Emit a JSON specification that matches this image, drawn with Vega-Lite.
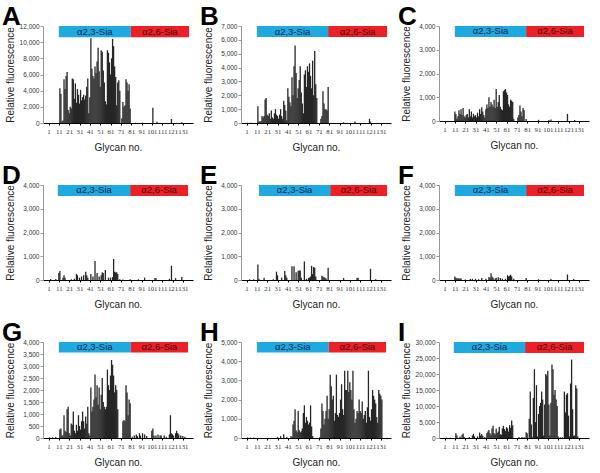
{
  "$schema": "https://vega.github.io/schema/vega-lite/v6.json",
  "padding": {"left": 2, "top": 4, "right": 2, "bottom": 2},
  "background": "white",
  "config": {
    "view": {"stroke": null},
    "font": "Liberation Sans",
    "title": {"anchor": "start", "frame": "group", "dx": -41, "dy": 9, "fontSize": 26, "fontWeight": "bold", "offset": 2, "baseline": "alphabetic", "color": "#000", "font": "Liberation Sans"},
    "axis": {"grid": false, "labelFontSize": 6.5, "titleFontSize": 10, "titleFontWeight": "normal", "titleColor": "#222", "labelColor": "#333", "labelOverlap": false, "tickCount": 20},
    "axisX": {"domainColor": "#000", "tickColor": "#000", "tickSize": 2, "labelFont": "Liberation Serif", "labelFontSize": 6.8, "labelPadding": 3, "titlePadding": 8, "labelAngle": 0, "labelFlush": false},
    "axisY": {"domainColor": "#999", "tickColor": "#999", "tickSize": 3, "labelPadding": 1, "titlePadding": 6, "minExtent": 22, "maxExtent": 22}
  },
  "datasets": {
    "bands": [
      {"p": "A", "sia": "α2,3-Sia", "s": 11, "e": 80.5, "lo": 10620, "hi": 12000},
      {"p": "A", "sia": "α2,6-Sia", "s": 80.5, "e": 137, "lo": 10620, "hi": 12000},
      {"p": "B", "sia": "α2,3-Sia", "s": 11, "e": 80, "lo": 6200, "hi": 7000},
      {"p": "B", "sia": "α2,6-Sia", "s": 80, "e": 137, "lo": 6200, "hi": 7000},
      {"p": "C", "sia": "α2,3-Sia", "s": 11, "e": 80, "lo": 3540, "hi": 4000},
      {"p": "C", "sia": "α2,6-Sia", "s": 80, "e": 136, "lo": 3540, "hi": 4000},
      {"p": "D", "sia": "α2,3-Sia", "s": 10, "e": 80, "lo": 3540, "hi": 4000},
      {"p": "D", "sia": "α2,6-Sia", "s": 80, "e": 136, "lo": 3540, "hi": 4000},
      {"p": "E", "sia": "α2,3-Sia", "s": 13, "e": 82, "lo": 3540, "hi": 4000},
      {"p": "E", "sia": "α2,6-Sia", "s": 82, "e": 137, "lo": 3540, "hi": 4000},
      {"p": "F", "sia": "α2,3-Sia", "s": 11, "e": 80, "lo": 3540, "hi": 4000},
      {"p": "F", "sia": "α2,6-Sia", "s": 80, "e": 136, "lo": 3540, "hi": 4000},
      {"p": "G", "sia": "α2,3-Sia", "s": 11, "e": 80.5, "lo": 3560, "hi": 4000},
      {"p": "G", "sia": "α2,6-Sia", "s": 80.5, "e": 136, "lo": 3560, "hi": 4000},
      {"p": "H", "sia": "α2,3-Sia", "s": 11, "e": 80.5, "lo": 4450, "hi": 5000},
      {"p": "H", "sia": "α2,6-Sia", "s": 80.5, "e": 136, "lo": 4450, "hi": 5000},
      {"p": "I", "sia": "α2,3-Sia", "s": 10, "e": 79, "lo": 26600, "hi": 30000},
      {"p": "I", "sia": "α2,6-Sia", "s": 79, "e": 136, "lo": 26600, "hi": 30000}
    ],
    "A": [
      {"g":12,"v":4300},{"g":13,"v":3600},{"g":14,"v":200},{"g":15,"v":300},{"g":16,"v":5400},{"g":17,"v":4200},{"g":18,"v":5800},{"g":19,"v":6300},{"g":20,"v":1600},{"g":21,"v":1200},{"g":22,"v":2000},{"g":23,"v":1800},{"g":24,"v":5500},{"g":25,"v":5400},{"g":26,"v":3000},{"g":27,"v":4900},{"g":28,"v":2500},{"g":29,"v":4200},{"g":30,"v":3500},{"g":31,"v":2400},{"g":32,"v":4100},{"g":33,"v":2800},{"g":34,"v":3200},{"g":35,"v":3500},{"g":36,"v":2900},{"g":37,"v":3400},{"g":38,"v":4500},{"g":39,"v":5500},{"g":40,"v":1200},{"g":41,"v":3200},{"g":42,"v":10500},{"g":43,"v":6700},{"g":44,"v":5800},{"g":45,"v":5500},{"g":46,"v":7000},{"g":47,"v":6200},{"g":48,"v":7600},{"g":49,"v":9300},{"g":50,"v":6400},{"g":51,"v":4500},{"g":52,"v":9000},{"g":53,"v":8800},{"g":54,"v":6500},{"g":55,"v":5000},{"g":56,"v":2700},{"g":57,"v":2300},{"g":58,"v":9000},{"g":59,"v":8700},{"g":60,"v":7500},{"g":61,"v":6000},{"g":62,"v":8000},{"g":63,"v":10400},{"g":64,"v":9500},{"g":65,"v":7000},{"g":66,"v":5700},{"g":67,"v":2200},{"g":68,"v":5000},{"g":69,"v":5300},{"g":70,"v":4000},{"g":72,"v":600},{"g":73,"v":2600},{"g":74,"v":2000},{"g":75,"v":2200},{"g":76,"v":5400},{"g":77,"v":5000},{"g":78,"v":4000},{"g":79,"v":4800},{"g":80,"v":1800},{"g":85,"v":40},{"g":92,"v":40},{"g":102,"v":1900},{"g":106,"v":150},{"g":120,"v":500},{"g":130,"v":100}
    ],
    "B": [
      {"g":2,"v":20},{"g":5,"v":20},{"g":12,"v":1200},{"g":13,"v":100},{"g":14,"v":100},{"g":15,"v":150},{"g":16,"v":500},{"g":17,"v":400},{"g":18,"v":500},{"g":19,"v":1700},{"g":20,"v":1800},{"g":21,"v":600},{"g":22,"v":500},{"g":23,"v":700},{"g":24,"v":300},{"g":25,"v":900},{"g":26,"v":400},{"g":27,"v":300},{"g":28,"v":700},{"g":29,"v":1000},{"g":30,"v":600},{"g":31,"v":500},{"g":32,"v":300},{"g":33,"v":600},{"g":34,"v":1000},{"g":35,"v":500},{"g":36,"v":300},{"g":37,"v":1600},{"g":38,"v":1300},{"g":39,"v":900},{"g":40,"v":200},{"g":41,"v":2500},{"g":42,"v":1900},{"g":43,"v":1500},{"g":44,"v":1200},{"g":45,"v":3300},{"g":46,"v":2000},{"g":47,"v":4100},{"g":48,"v":5600},{"g":49,"v":3600},{"g":50,"v":1800},{"g":51,"v":2500},{"g":52,"v":3100},{"g":53,"v":4100},{"g":54,"v":2200},{"g":55,"v":1400},{"g":56,"v":700},{"g":57,"v":3500},{"g":58,"v":3800},{"g":59,"v":2600},{"g":60,"v":4100},{"g":61,"v":3700},{"g":62,"v":4300},{"g":63,"v":3400},{"g":64,"v":2500},{"g":65,"v":4500},{"g":66,"v":2000},{"g":67,"v":5200},{"g":68,"v":2800},{"g":69,"v":1800},{"g":73,"v":300},{"g":74,"v":500},{"g":75,"v":2300},{"g":76,"v":1400},{"g":77,"v":1000},{"g":78,"v":1000},{"g":79,"v":900},{"g":80,"v":2600},{"g":95,"v":50},{"g":106,"v":100},{"g":120,"v":300},{"g":121,"v":100}
    ],
    "C": [
      {"g":11,"v":400},{"g":12,"v":300},{"g":13,"v":100},{"g":14,"v":200},{"g":15,"v":450},{"g":16,"v":300},{"g":17,"v":500},{"g":18,"v":250},{"g":19,"v":550},{"g":20,"v":200},{"g":21,"v":150},{"g":22,"v":250},{"g":23,"v":300},{"g":24,"v":150},{"g":25,"v":500},{"g":26,"v":200},{"g":27,"v":400},{"g":28,"v":150},{"g":29,"v":300},{"g":30,"v":200},{"g":31,"v":250},{"g":32,"v":150},{"g":33,"v":350},{"g":34,"v":200},{"g":35,"v":500},{"g":36,"v":300},{"g":37,"v":580},{"g":38,"v":400},{"g":39,"v":250},{"g":40,"v":150},{"g":41,"v":500},{"g":42,"v":700},{"g":43,"v":550},{"g":44,"v":1000},{"g":45,"v":600},{"g":46,"v":800},{"g":47,"v":700},{"g":48,"v":600},{"g":49,"v":900},{"g":50,"v":550},{"g":51,"v":1350},{"g":52,"v":600},{"g":53,"v":800},{"g":54,"v":1100},{"g":55,"v":600},{"g":56,"v":500},{"g":57,"v":450},{"g":58,"v":1250},{"g":59,"v":1300},{"g":60,"v":1350},{"g":61,"v":1200},{"g":62,"v":1100},{"g":63,"v":700},{"g":64,"v":600},{"g":65,"v":900},{"g":66,"v":850},{"g":67,"v":800},{"g":68,"v":100},{"g":72,"v":150},{"g":73,"v":250},{"g":74,"v":650},{"g":75,"v":400},{"g":76,"v":200},{"g":77,"v":550},{"g":78,"v":450},{"g":80,"v":80},{"g":92,"v":50},{"g":102,"v":40},{"g":104,"v":60},{"g":120,"v":300},{"g":127,"v":40}
    ],
    "D": [
      {"g":3,"v":40},{"g":8,"v":40},{"g":11,"v":300},{"g":12,"v":380},{"g":15,"v":100},{"g":16,"v":200},{"g":17,"v":100},{"g":23,"v":30},{"g":26,"v":50},{"g":28,"v":250},{"g":29,"v":200},{"g":31,"v":100},{"g":33,"v":150},{"g":35,"v":200},{"g":37,"v":350},{"g":38,"v":200},{"g":39,"v":100},{"g":42,"v":250},{"g":44,"v":150},{"g":46,"v":800},{"g":48,"v":300},{"g":50,"v":150},{"g":52,"v":200},{"g":53,"v":330},{"g":54,"v":300},{"g":56,"v":420},{"g":59,"v":100},{"g":61,"v":100},{"g":63,"v":120},{"g":64,"v":880},{"g":65,"v":350},{"g":66,"v":320},{"g":67,"v":330},{"g":68,"v":250},{"g":70,"v":30},{"g":73,"v":20},{"g":80,"v":30},{"g":88,"v":30},{"g":94,"v":100},{"g":104,"v":80},{"g":105,"v":70},{"g":118,"v":50},{"g":120,"v":600},{"g":124,"v":80},{"g":130,"v":130}
    ],
    "E": [
      {"g":4,"v":30},{"g":8,"v":30},{"g":12,"v":650},{"g":13,"v":50},{"g":18,"v":100},{"g":27,"v":30},{"g":30,"v":350},{"g":31,"v":200},{"g":35,"v":100},{"g":38,"v":380},{"g":39,"v":200},{"g":40,"v":100},{"g":45,"v":580},{"g":47,"v":580},{"g":49,"v":330},{"g":51,"v":380},{"g":52,"v":400},{"g":53,"v":400},{"g":54,"v":100},{"g":57,"v":780},{"g":59,"v":50},{"g":61,"v":80},{"g":62,"v":100},{"g":63,"v":150},{"g":64,"v":600},{"g":65,"v":250},{"g":66,"v":550},{"g":67,"v":520},{"g":68,"v":150},{"g":74,"v":180},{"g":75,"v":150},{"g":76,"v":120},{"g":77,"v":100},{"g":78,"v":60},{"g":80,"v":520},{"g":95,"v":80},{"g":108,"v":80},{"g":109,"v":100},{"g":121,"v":470},{"g":126,"v":30}
    ],
    "F": [
      {"g":11,"v":150},{"g":12,"v":100},{"g":13,"v":70},{"g":14,"v":60},{"g":15,"v":60},{"g":16,"v":60},{"g":17,"v":60},{"g":21,"v":20},{"g":26,"v":40},{"g":28,"v":50},{"g":31,"v":50},{"g":34,"v":30},{"g":37,"v":80},{"g":41,"v":50},{"g":44,"v":130},{"g":45,"v":80},{"g":46,"v":280},{"g":47,"v":150},{"g":48,"v":100},{"g":50,"v":60},{"g":51,"v":100},{"g":53,"v":120},{"g":55,"v":80},{"g":57,"v":60},{"g":60,"v":50},{"g":62,"v":200},{"g":63,"v":150},{"g":64,"v":180},{"g":65,"v":220},{"g":66,"v":150},{"g":68,"v":50},{"g":80,"v":80},{"g":92,"v":30},{"g":104,"v":40},{"g":120,"v":230},{"g":126,"v":40}
    ],
    "G": [
      {"g":2,"v":30},{"g":5,"v":30},{"g":8,"v":40},{"g":12,"v":350},{"g":13,"v":400},{"g":14,"v":100},{"g":15,"v":100},{"g":16,"v":950},{"g":17,"v":300},{"g":18,"v":250},{"g":19,"v":1200},{"g":20,"v":1300},{"g":21,"v":200},{"g":22,"v":100},{"g":23,"v":600},{"g":24,"v":550},{"g":25,"v":1100},{"g":26,"v":300},{"g":27,"v":200},{"g":28,"v":550},{"g":29,"v":300},{"g":30,"v":950},{"g":31,"v":500},{"g":32,"v":350},{"g":33,"v":700},{"g":34,"v":1100},{"g":35,"v":700},{"g":36,"v":400},{"g":37,"v":900},{"g":38,"v":600},{"g":39,"v":1300},{"g":40,"v":200},{"g":41,"v":100},{"g":42,"v":2100},{"g":43,"v":1100},{"g":44,"v":1300},{"g":45,"v":1600},{"g":46,"v":2650},{"g":47,"v":1700},{"g":48,"v":2200},{"g":49,"v":1400},{"g":50,"v":2100},{"g":51,"v":1200},{"g":52,"v":1800},{"g":53,"v":2500},{"g":54,"v":1500},{"g":55,"v":1300},{"g":56,"v":1200},{"g":57,"v":1300},{"g":58,"v":2850},{"g":59,"v":2200},{"g":60,"v":2000},{"g":61,"v":2600},{"g":62,"v":3250},{"g":63,"v":3050},{"g":64,"v":2600},{"g":65,"v":1900},{"g":66,"v":2200},{"g":67,"v":2000},{"g":68,"v":1200},{"g":73,"v":700},{"g":74,"v":750},{"g":75,"v":700},{"g":76,"v":2200},{"g":77,"v":1900},{"g":78,"v":950},{"g":79,"v":1600},{"g":80,"v":1450},{"g":82,"v":50},{"g":84,"v":100},{"g":86,"v":150},{"g":87,"v":80},{"g":89,"v":200},{"g":90,"v":100},{"g":92,"v":200},{"g":94,"v":150},{"g":96,"v":80},{"g":101,"v":300},{"g":102,"v":400},{"g":103,"v":100},{"g":105,"v":100},{"g":107,"v":150},{"g":109,"v":100},{"g":110,"v":100},{"g":113,"v":100},{"g":115,"v":50},{"g":118,"v":150},{"g":119,"v":950},{"g":120,"v":200},{"g":121,"v":150},{"g":122,"v":100},{"g":124,"v":200},{"g":125,"v":300},{"g":126,"v":200},{"g":127,"v":150},{"g":129,"v":100},{"g":131,"v":80},{"g":133,"v":50}
    ],
    "H": [
      {"g":2,"v":30},{"g":5,"v":20},{"g":8,"v":30},{"g":31,"v":50},{"g":34,"v":100},{"g":37,"v":200},{"g":40,"v":50},{"g":44,"v":100},{"g":45,"v":50},{"g":46,"v":700},{"g":47,"v":900},{"g":48,"v":1500},{"g":49,"v":400},{"g":50,"v":300},{"g":51,"v":1400},{"g":52,"v":400},{"g":53,"v":300},{"g":54,"v":350},{"g":55,"v":500},{"g":56,"v":1300},{"g":57,"v":1700},{"g":58,"v":800},{"g":59,"v":1100},{"g":60,"v":900},{"g":61,"v":700},{"g":62,"v":800},{"g":63,"v":1700},{"g":64,"v":600},{"g":65,"v":100},{"g":72,"v":50},{"g":73,"v":500},{"g":74,"v":1800},{"g":75,"v":1400},{"g":76,"v":700},{"g":77,"v":1000},{"g":78,"v":1400},{"g":79,"v":2200},{"g":80,"v":1000},{"g":81,"v":1500},{"g":82,"v":3300},{"g":83,"v":2700},{"g":84,"v":2000},{"g":85,"v":2200},{"g":86,"v":900},{"g":87,"v":1300},{"g":88,"v":3300},{"g":89,"v":1200},{"g":90,"v":1100},{"g":91,"v":1300},{"g":92,"v":2000},{"g":93,"v":2800},{"g":94,"v":1500},{"g":95,"v":1200},{"g":96,"v":3500},{"g":97,"v":2500},{"g":98,"v":2500},{"g":99,"v":3500},{"g":100,"v":2400},{"g":101,"v":2900},{"g":102,"v":2500},{"g":103,"v":2000},{"g":104,"v":3500},{"g":105,"v":1500},{"g":106,"v":800},{"g":107,"v":1000},{"g":108,"v":1400},{"g":109,"v":1300},{"g":110,"v":2000},{"g":111,"v":1400},{"g":112,"v":1300},{"g":113,"v":1900},{"g":114,"v":1000},{"g":115,"v":1200},{"g":116,"v":1400},{"g":117,"v":800},{"g":118,"v":1600},{"g":119,"v":3500},{"g":120,"v":1100},{"g":121,"v":900},{"g":122,"v":1500},{"g":123,"v":2500},{"g":124,"v":2200},{"g":125,"v":2000},{"g":126,"v":1800},{"g":127,"v":1100},{"g":128,"v":800},{"g":129,"v":2500},{"g":130,"v":2300},{"g":131,"v":2200},{"g":132,"v":2000}
    ],
    "I": [
      {"g":3,"v":100},{"g":7,"v":100},{"g":12,"v":1500},{"g":13,"v":800},{"g":16,"v":500},{"g":18,"v":1000},{"g":19,"v":1400},{"g":20,"v":300},{"g":25,"v":300},{"g":28,"v":800},{"g":29,"v":1300},{"g":30,"v":500},{"g":33,"v":500},{"g":35,"v":1700},{"g":36,"v":800},{"g":37,"v":1200},{"g":38,"v":700},{"g":40,"v":300},{"g":42,"v":1500},{"g":43,"v":2000},{"g":44,"v":2500},{"g":45,"v":1500},{"g":46,"v":1000},{"g":47,"v":3000},{"g":48,"v":3800},{"g":49,"v":1500},{"g":50,"v":1200},{"g":51,"v":3000},{"g":52,"v":1600},{"g":53,"v":2000},{"g":54,"v":3500},{"g":55,"v":1200},{"g":56,"v":1000},{"g":57,"v":3000},{"g":58,"v":3800},{"g":59,"v":2800},{"g":60,"v":2200},{"g":61,"v":3400},{"g":62,"v":3000},{"g":63,"v":2000},{"g":64,"v":4000},{"g":65,"v":3200},{"g":66,"v":5500},{"g":67,"v":4000},{"g":73,"v":300},{"g":76,"v":300},{"g":78,"v":200},{"g":80,"v":1800},{"g":81,"v":1500},{"g":83,"v":6000},{"g":84,"v":14500},{"g":85,"v":4200},{"g":86,"v":200},{"g":87,"v":12500},{"g":88,"v":21500},{"g":89,"v":5000},{"g":90,"v":16500},{"g":91,"v":500},{"g":92,"v":7500},{"g":93,"v":10000},{"g":94,"v":11000},{"g":95,"v":14500},{"g":96,"v":12000},{"g":97,"v":800},{"g":98,"v":10500},{"g":99,"v":20000},{"g":100,"v":19500},{"g":101,"v":21000},{"g":102,"v":10500},{"g":103,"v":800},{"g":104,"v":11000},{"g":105,"v":23000},{"g":106,"v":21500},{"g":107,"v":13500},{"g":108,"v":15000},{"g":109,"v":12000},{"g":110,"v":10000},{"g":111,"v":500},{"g":113,"v":200},{"g":115,"v":200},{"g":117,"v":14500},{"g":118,"v":8000},{"g":119,"v":13500},{"g":120,"v":14000},{"g":121,"v":7000},{"g":122,"v":500},{"g":123,"v":17000},{"g":124,"v":24500},{"g":125,"v":9000},{"g":126,"v":700},{"g":127,"v":800},{"g":128,"v":16500},{"g":129,"v":15500},{"g":130,"v":500}
    ]
  },
  "columns": 3,
  "spacing": {"row": 10, "column": 7},
  "concat": [
    {"title": "A", "width": 150, "height": 97, "layer": [
      {"data": {"name": "A"}, "mark": {"type": "bar", "size": 1.3, "color": "#262626"}, "encoding": {
        "x": {"field": "g", "type": "quantitative", "scale": {"domain": [0.5, 136], "nice": false, "zero": false}, "axis": {"values": [1,11,21,31,41,51,61,71,81,91,101,111,121,131], "tickCount": 20, "labelOverlap": false, "title": "Glycan no."}},
        "y": {"field": "v", "type": "quantitative", "scale": {"domain": [0, 12000], "nice": false}, "axis": {"values": [0,2000,4000,6000,8000,10000,12000], "tickCount": 20, "labelOverlap": false, "format": ",.0f", "title": "Relative fluorescence"}}}},
      {"data": {"name": "bands"}, "transform": [{"filter": "datum.p == 'A'"}], "mark": "rect", "encoding": {
        "x": {"field": "s", "type": "quantitative"}, "x2": {"field": "e"}, "y": {"field": "lo", "type": "quantitative"}, "y2": {"field": "hi"},
        "color": {"field": "sia", "type": "nominal", "scale": {"domain": ["α2,3-Sia", "α2,6-Sia"], "range": ["#1fa9e1", "#ec2027"]}, "legend": null}}},
      {"data": {"name": "bands"}, "transform": [{"filter": "datum.p == 'A'"}, {"calculate": "(datum.s + datum.e) / 2", "as": "m"}, {"calculate": "(datum.lo + datum.hi) / 2", "as": "ym"}], "mark": {"type": "text", "fontSize": 9.5, "baseline": "middle"}, "encoding": {
        "x": {"field": "m", "type": "quantitative"}, "y": {"field": "ym", "type": "quantitative"}, "text": {"field": "sia"},
        "color": {"condition": {"test": "datum.sia == 'α2,3-Sia'", "value": "#14254f"}, "value": "#4a0c0c"}}}
    ]},
    {"title": "B", "width": 150, "height": 97, "layer": [
      {"data": {"name": "B"}, "mark": {"type": "bar", "size": 1.3, "color": "#262626"}, "encoding": {
        "x": {"field": "g", "type": "quantitative", "scale": {"domain": [0.5, 136], "nice": false, "zero": false}, "axis": {"values": [1,11,21,31,41,51,61,71,81,91,101,111,121,131], "tickCount": 20, "labelOverlap": false, "title": "Glycan no."}},
        "y": {"field": "v", "type": "quantitative", "scale": {"domain": [0, 7000], "nice": false}, "axis": {"values": [0,1000,2000,3000,4000,5000,6000,7000], "tickCount": 20, "labelOverlap": false, "format": ",.0f", "title": "Relative fluorescence"}}}},
      {"data": {"name": "bands"}, "transform": [{"filter": "datum.p == 'B'"}], "mark": "rect", "encoding": {
        "x": {"field": "s", "type": "quantitative"}, "x2": {"field": "e"}, "y": {"field": "lo", "type": "quantitative"}, "y2": {"field": "hi"},
        "color": {"field": "sia", "type": "nominal", "scale": {"domain": ["α2,3-Sia", "α2,6-Sia"], "range": ["#1fa9e1", "#ec2027"]}, "legend": null}}},
      {"data": {"name": "bands"}, "transform": [{"filter": "datum.p == 'B'"}, {"calculate": "(datum.s + datum.e) / 2", "as": "m"}, {"calculate": "(datum.lo + datum.hi) / 2", "as": "ym"}], "mark": {"type": "text", "fontSize": 9.5, "baseline": "middle"}, "encoding": {
        "x": {"field": "m", "type": "quantitative"}, "y": {"field": "ym", "type": "quantitative"}, "text": {"field": "sia"},
        "color": {"condition": {"test": "datum.sia == 'α2,3-Sia'", "value": "#14254f"}, "value": "#4a0c0c"}}}
    ]},
    {"title": "C", "width": 150, "height": 95, "layer": [
      {"data": {"name": "C"}, "mark": {"type": "bar", "size": 1.3, "color": "#262626"}, "encoding": {
        "x": {"field": "g", "type": "quantitative", "scale": {"domain": [0.5, 136], "nice": false, "zero": false}, "axis": {"values": [1,11,21,31,41,51,61,71,81,91,101,111,121,131], "tickCount": 20, "labelOverlap": false, "title": "Glycan no."}},
        "y": {"field": "v", "type": "quantitative", "scale": {"domain": [0, 4000], "nice": false}, "axis": {"values": [0,1000,2000,3000,4000], "tickCount": 20, "labelOverlap": false, "format": ",.0f", "title": "Relative fluorescence"}}}},
      {"data": {"name": "bands"}, "transform": [{"filter": "datum.p == 'C'"}], "mark": "rect", "encoding": {
        "x": {"field": "s", "type": "quantitative"}, "x2": {"field": "e"}, "y": {"field": "lo", "type": "quantitative"}, "y2": {"field": "hi"},
        "color": {"field": "sia", "type": "nominal", "scale": {"domain": ["α2,3-Sia", "α2,6-Sia"], "range": ["#1fa9e1", "#ec2027"]}, "legend": null}}},
      {"data": {"name": "bands"}, "transform": [{"filter": "datum.p == 'C'"}, {"calculate": "(datum.s + datum.e) / 2", "as": "m"}, {"calculate": "(datum.lo + datum.hi) / 2", "as": "ym"}], "mark": {"type": "text", "fontSize": 9.5, "baseline": "middle"}, "encoding": {
        "x": {"field": "m", "type": "quantitative"}, "y": {"field": "ym", "type": "quantitative"}, "text": {"field": "sia"},
        "color": {"condition": {"test": "datum.sia == 'α2,3-Sia'", "value": "#14254f"}, "value": "#4a0c0c"}}}
    ]},
    {"title": "D", "width": 150, "height": 95, "layer": [
      {"data": {"name": "D"}, "mark": {"type": "bar", "size": 1.3, "color": "#262626"}, "encoding": {
        "x": {"field": "g", "type": "quantitative", "scale": {"domain": [0.5, 136], "nice": false, "zero": false}, "axis": {"values": [1,11,21,31,41,51,61,71,81,91,101,111,121,131], "tickCount": 20, "labelOverlap": false, "title": "Glycan no."}},
        "y": {"field": "v", "type": "quantitative", "scale": {"domain": [0, 4000], "nice": false}, "axis": {"values": [0,1000,2000,3000,4000], "tickCount": 20, "labelOverlap": false, "format": ",.0f", "title": "Relative fluorescence"}}}},
      {"data": {"name": "bands"}, "transform": [{"filter": "datum.p == 'D'"}], "mark": "rect", "encoding": {
        "x": {"field": "s", "type": "quantitative"}, "x2": {"field": "e"}, "y": {"field": "lo", "type": "quantitative"}, "y2": {"field": "hi"},
        "color": {"field": "sia", "type": "nominal", "scale": {"domain": ["α2,3-Sia", "α2,6-Sia"], "range": ["#1fa9e1", "#ec2027"]}, "legend": null}}},
      {"data": {"name": "bands"}, "transform": [{"filter": "datum.p == 'D'"}, {"calculate": "(datum.s + datum.e) / 2", "as": "m"}, {"calculate": "(datum.lo + datum.hi) / 2", "as": "ym"}], "mark": {"type": "text", "fontSize": 9.5, "baseline": "middle"}, "encoding": {
        "x": {"field": "m", "type": "quantitative"}, "y": {"field": "ym", "type": "quantitative"}, "text": {"field": "sia"},
        "color": {"condition": {"test": "datum.sia == 'α2,3-Sia'", "value": "#14254f"}, "value": "#4a0c0c"}}}
    ]},
    {"title": "E", "width": 150, "height": 95, "layer": [
      {"data": {"name": "E"}, "mark": {"type": "bar", "size": 1.3, "color": "#262626"}, "encoding": {
        "x": {"field": "g", "type": "quantitative", "scale": {"domain": [0.5, 136], "nice": false, "zero": false}, "axis": {"values": [1,11,21,31,41,51,61,71,81,91,101,111,121,131], "tickCount": 20, "labelOverlap": false, "title": "Glycan no."}},
        "y": {"field": "v", "type": "quantitative", "scale": {"domain": [0, 4000], "nice": false}, "axis": {"values": [0,1000,2000,3000,4000], "tickCount": 20, "labelOverlap": false, "format": ",.0f", "title": "Relative fluorescence"}}}},
      {"data": {"name": "bands"}, "transform": [{"filter": "datum.p == 'E'"}], "mark": "rect", "encoding": {
        "x": {"field": "s", "type": "quantitative"}, "x2": {"field": "e"}, "y": {"field": "lo", "type": "quantitative"}, "y2": {"field": "hi"},
        "color": {"field": "sia", "type": "nominal", "scale": {"domain": ["α2,3-Sia", "α2,6-Sia"], "range": ["#1fa9e1", "#ec2027"]}, "legend": null}}},
      {"data": {"name": "bands"}, "transform": [{"filter": "datum.p == 'E'"}, {"calculate": "(datum.s + datum.e) / 2", "as": "m"}, {"calculate": "(datum.lo + datum.hi) / 2", "as": "ym"}], "mark": {"type": "text", "fontSize": 9.5, "baseline": "middle"}, "encoding": {
        "x": {"field": "m", "type": "quantitative"}, "y": {"field": "ym", "type": "quantitative"}, "text": {"field": "sia"},
        "color": {"condition": {"test": "datum.sia == 'α2,3-Sia'", "value": "#14254f"}, "value": "#4a0c0c"}}}
    ]},
    {"title": "F", "width": 150, "height": 95, "layer": [
      {"data": {"name": "F"}, "mark": {"type": "bar", "size": 1.3, "color": "#262626"}, "encoding": {
        "x": {"field": "g", "type": "quantitative", "scale": {"domain": [0.5, 136], "nice": false, "zero": false}, "axis": {"values": [1,11,21,31,41,51,61,71,81,91,101,111,121,131], "tickCount": 20, "labelOverlap": false, "title": "Glycan no."}},
        "y": {"field": "v", "type": "quantitative", "scale": {"domain": [0, 4000], "nice": false}, "axis": {"values": [0,1000,2000,3000,4000], "tickCount": 20, "labelOverlap": false, "format": ",.0f", "title": "Relative fluorescence"}}}},
      {"data": {"name": "bands"}, "transform": [{"filter": "datum.p == 'F'"}], "mark": "rect", "encoding": {
        "x": {"field": "s", "type": "quantitative"}, "x2": {"field": "e"}, "y": {"field": "lo", "type": "quantitative"}, "y2": {"field": "hi"},
        "color": {"field": "sia", "type": "nominal", "scale": {"domain": ["α2,3-Sia", "α2,6-Sia"], "range": ["#1fa9e1", "#ec2027"]}, "legend": null}}},
      {"data": {"name": "bands"}, "transform": [{"filter": "datum.p == 'F'"}, {"calculate": "(datum.s + datum.e) / 2", "as": "m"}, {"calculate": "(datum.lo + datum.hi) / 2", "as": "ym"}], "mark": {"type": "text", "fontSize": 9.5, "baseline": "middle"}, "encoding": {
        "x": {"field": "m", "type": "quantitative"}, "y": {"field": "ym", "type": "quantitative"}, "text": {"field": "sia"},
        "color": {"condition": {"test": "datum.sia == 'α2,3-Sia'", "value": "#14254f"}, "value": "#4a0c0c"}}}
    ]},
    {"title": "G", "width": 150, "height": 96, "layer": [
      {"data": {"name": "G"}, "mark": {"type": "bar", "size": 1.3, "color": "#262626"}, "encoding": {
        "x": {"field": "g", "type": "quantitative", "scale": {"domain": [0.5, 136], "nice": false, "zero": false}, "axis": {"values": [1,11,21,31,41,51,61,71,81,91,101,111,121,131], "tickCount": 20, "labelOverlap": false, "title": "Glycan no."}},
        "y": {"field": "v", "type": "quantitative", "scale": {"domain": [0, 4000], "nice": false}, "axis": {"values": [0,500,1000,1500,2000,2500,3000,3500,4000], "tickCount": 20, "labelOverlap": false, "format": ",.0f", "title": "Relative fluorescence"}}}},
      {"data": {"name": "bands"}, "transform": [{"filter": "datum.p == 'G'"}], "mark": "rect", "encoding": {
        "x": {"field": "s", "type": "quantitative"}, "x2": {"field": "e"}, "y": {"field": "lo", "type": "quantitative"}, "y2": {"field": "hi"},
        "color": {"field": "sia", "type": "nominal", "scale": {"domain": ["α2,3-Sia", "α2,6-Sia"], "range": ["#1fa9e1", "#ec2027"]}, "legend": null}}},
      {"data": {"name": "bands"}, "transform": [{"filter": "datum.p == 'G'"}, {"calculate": "(datum.s + datum.e) / 2", "as": "m"}, {"calculate": "(datum.lo + datum.hi) / 2", "as": "ym"}], "mark": {"type": "text", "fontSize": 9.5, "baseline": "middle"}, "encoding": {
        "x": {"field": "m", "type": "quantitative"}, "y": {"field": "ym", "type": "quantitative"}, "text": {"field": "sia"},
        "color": {"condition": {"test": "datum.sia == 'α2,3-Sia'", "value": "#14254f"}, "value": "#4a0c0c"}}}
    ]},
    {"title": "H", "width": 150, "height": 96, "layer": [
      {"data": {"name": "H"}, "mark": {"type": "bar", "size": 1.3, "color": "#262626"}, "encoding": {
        "x": {"field": "g", "type": "quantitative", "scale": {"domain": [0.5, 136], "nice": false, "zero": false}, "axis": {"values": [1,11,21,31,41,51,61,71,81,91,101,111,121,131], "tickCount": 20, "labelOverlap": false, "title": "Glycan no."}},
        "y": {"field": "v", "type": "quantitative", "scale": {"domain": [0, 5000], "nice": false}, "axis": {"values": [0,1000,2000,3000,4000,5000], "tickCount": 20, "labelOverlap": false, "format": ",.0f", "title": "Relative fluorescence"}}}},
      {"data": {"name": "bands"}, "transform": [{"filter": "datum.p == 'H'"}], "mark": "rect", "encoding": {
        "x": {"field": "s", "type": "quantitative"}, "x2": {"field": "e"}, "y": {"field": "lo", "type": "quantitative"}, "y2": {"field": "hi"},
        "color": {"field": "sia", "type": "nominal", "scale": {"domain": ["α2,3-Sia", "α2,6-Sia"], "range": ["#1fa9e1", "#ec2027"]}, "legend": null}}},
      {"data": {"name": "bands"}, "transform": [{"filter": "datum.p == 'H'"}, {"calculate": "(datum.s + datum.e) / 2", "as": "m"}, {"calculate": "(datum.lo + datum.hi) / 2", "as": "ym"}], "mark": {"type": "text", "fontSize": 9.5, "baseline": "middle"}, "encoding": {
        "x": {"field": "m", "type": "quantitative"}, "y": {"field": "ym", "type": "quantitative"}, "text": {"field": "sia"},
        "color": {"condition": {"test": "datum.sia == 'α2,3-Sia'", "value": "#14254f"}, "value": "#4a0c0c"}}}
    ]},
    {"title": "I", "width": 150, "height": 96, "layer": [
      {"data": {"name": "I"}, "mark": {"type": "bar", "size": 1.3, "color": "#262626"}, "encoding": {
        "x": {"field": "g", "type": "quantitative", "scale": {"domain": [0.5, 136], "nice": false, "zero": false}, "axis": {"values": [1,11,21,31,41,51,61,71,81,91,101,111,121,131], "tickCount": 20, "labelOverlap": false, "title": "Glycan no."}},
        "y": {"field": "v", "type": "quantitative", "scale": {"domain": [0, 30000], "nice": false}, "axis": {"values": [0,5000,10000,15000,20000,25000,30000], "tickCount": 20, "labelOverlap": false, "format": ",.0f", "title": "Relative fluorescence"}}}},
      {"data": {"name": "bands"}, "transform": [{"filter": "datum.p == 'I'"}], "mark": "rect", "encoding": {
        "x": {"field": "s", "type": "quantitative"}, "x2": {"field": "e"}, "y": {"field": "lo", "type": "quantitative"}, "y2": {"field": "hi"},
        "color": {"field": "sia", "type": "nominal", "scale": {"domain": ["α2,3-Sia", "α2,6-Sia"], "range": ["#1fa9e1", "#ec2027"]}, "legend": null}}},
      {"data": {"name": "bands"}, "transform": [{"filter": "datum.p == 'I'"}, {"calculate": "(datum.s + datum.e) / 2", "as": "m"}, {"calculate": "(datum.lo + datum.hi) / 2", "as": "ym"}], "mark": {"type": "text", "fontSize": 9.5, "baseline": "middle"}, "encoding": {
        "x": {"field": "m", "type": "quantitative"}, "y": {"field": "ym", "type": "quantitative"}, "text": {"field": "sia"},
        "color": {"condition": {"test": "datum.sia == 'α2,3-Sia'", "value": "#14254f"}, "value": "#4a0c0c"}}}
    ]}
  ]
}
